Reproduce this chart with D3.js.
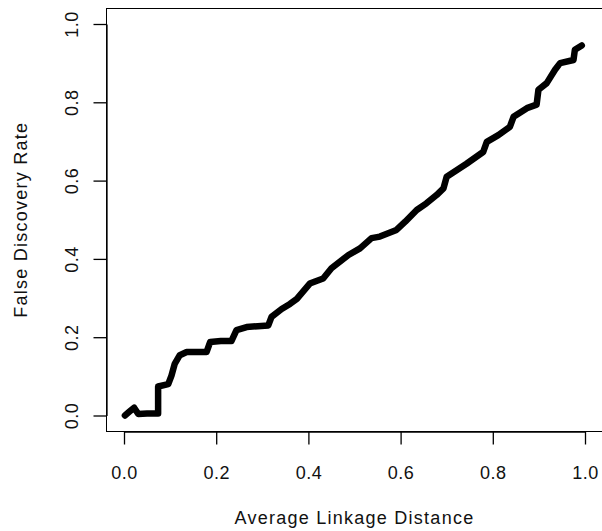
<!DOCTYPE html>
<html>
<head>
<meta charset="utf-8">
<script src="https://cdn.jsdelivr.net/npm/d3@7"></script>
<style>
  body { margin: 0; background: #fff; }
  svg { display: block; }
  .axis text, .title { font-family: 'Liberation Sans', Arial, sans-serif; fill: #111; }
</style>
</head>
<body>
<div id="chart"></div>
<script>
// false discovery rate vs average linkage distance
const distance = [0.002, 0.012, 0.022, 0.031, 0.05, 0.074, 0.074, 0.096, 0.103, 0.11, 0.121, 0.136,
  0.158, 0.179, 0.187, 0.21, 0.233, 0.244, 0.266, 0.29, 0.313, 0.32, 0.342, 0.36, 0.375, 0.403,
  0.432, 0.45, 0.487, 0.512, 0.537, 0.555, 0.591, 0.61, 0.635, 0.656, 0.678, 0.693, 0.7,
  0.743, 0.779, 0.787, 0.812, 0.837, 0.845, 0.874, 0.895, 0.899, 0.917, 0.935, 0.946, 0.975,
  0.978, 0.993];
const fdr = [0.0, 0.01, 0.02, 0.004, 0.005, 0.005, 0.074, 0.08, 0.102, 0.132, 0.154, 0.162,
  0.162, 0.162, 0.188, 0.19, 0.19, 0.218, 0.226, 0.228, 0.23, 0.252, 0.272, 0.285, 0.298, 0.337,
  0.35, 0.376, 0.41, 0.427, 0.453, 0.457, 0.474, 0.495, 0.525, 0.542, 0.563, 0.58, 0.61,
  0.643, 0.673, 0.699, 0.716, 0.737, 0.763, 0.785, 0.794, 0.832, 0.849, 0.883, 0.9, 0.908,
  0.934, 0.945];
const xTicks = [0, 0.2, 0.4, 0.6, 0.8, 1.0];
const yTicks = [0, 0.2, 0.4, 0.6, 0.8, 1.0];

const width = 602;
const height = 531;

const svg = d3.select('#chart').append('svg')
  .attr('width', width)
  .attr('height', height);

const x = d3.scaleLinear().domain([0, 1]).range([124, 585]);
const y = d3.scaleLinear().domain([0, 1]).range([415.5, 24]);

// plot box, R style (4% padding around the data range)
svg.append('rect')
  .attr('x', Math.round(x(-0.04)) + 0.5)
  .attr('y', Math.round(y(1.04)) + 0.5)
  .attr('width', x(1.04) - x(-0.04))
  .attr('height', Math.round(y(-0.04)) - Math.round(y(1.04)))
  .attr('fill', 'none')
  .attr('stroke', '#000')
  .attr('stroke-width', 1);

const fmt = d3.format('.1f');

const xAxis = svg.append('g')
  .attr('class', 'axis')
  .attr('transform', 'translate(0,' + (Math.round(y(-0.04)) + 0.5) + ')')
  .call(d3.axisBottom(x).tickValues(xTicks).tickFormat(fmt).tickSize(13).tickSizeOuter(0));
xAxis.selectAll('text')
  .attr('y', 47)
  .attr('dy', 0)
  .style('font-size', '18px')
  .style('letter-spacing', '0.5px');

const yAxis = svg.append('g')
  .attr('class', 'axis')
  .attr('transform', 'translate(' + (Math.round(x(-0.04)) + 0.5) + ',0)')
  .call(d3.axisLeft(y).tickValues(yTicks).tickFormat(fmt).tickSize(13).tickSizeOuter(0));
yAxis.selectAll('text')
  .attr('transform', 'rotate(-90)')
  .attr('x', 0)
  .attr('y', -29)
  .attr('dy', 0)
  .attr('text-anchor', 'middle')
  .style('font-size', '18px')
  .style('letter-spacing', '0.5px');

svg.selectAll('.axis path, .axis line')
  .attr('stroke', '#000')
  .attr('stroke-width', 1.3);

// the curve
const line = d3.line()
  .x((d, i) => x(distance[i]))
  .y(d => y(d));

svg.append('path')
  .datum(fdr)
  .attr('d', line)
  .attr('fill', 'none')
  .attr('stroke', '#000')
  .attr('stroke-width', 6.5)
  .attr('stroke-linejoin', 'round')
  .attr('stroke-linecap', 'round');

// axis titles
const midX = (x(-0.04) + x(1.04)) / 2;
const midY = (y(-0.04) + y(1.04)) / 2;

svg.append('text')
  .attr('class', 'title')
  .attr('x', midX)
  .attr('y', 524)
  .attr('text-anchor', 'middle')
  .style('font-size', '18px')
  .style('letter-spacing', '1.25px')
  .text('Average Linkage Distance');

svg.append('text')
  .attr('class', 'title')
  .attr('transform', 'translate(27,' + midY + ') rotate(-90)')
  .attr('text-anchor', 'middle')
  .style('font-size', '18px')
  .style('letter-spacing', '1.25px')
  .text('False Discovery Rate');
</script>
</body>
</html>
